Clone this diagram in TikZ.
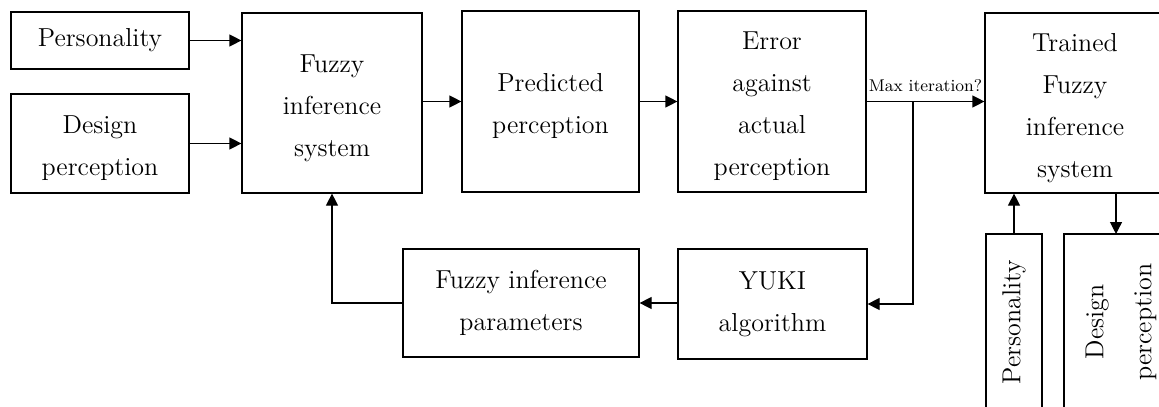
\documentclass[tikz,border=0pt]{standalone}
\usetikzlibrary{arrows.meta}
\newcommand\firstln{\rule{0pt}{14pt}}
\begin{document}
\begin{tikzpicture}[x=0.5pt,y=-0.5pt,
  box/.style={draw, line width=0.6pt, inner sep=0pt, align=center,
    font=\fontsize{13}{21}\selectfont},
  conn/.style={line width=0.6pt, -{Triangle[length=6pt,width=6pt]}}]
\useasboundingbox (0,0) rectangle (1159,406);
\clip (0,0) rectangle (1159,406);
\node[box, minimum width=89pt, minimum height=28.5pt] (pers) at (100,40.5) {Personality};
\node[box, minimum width=89pt, minimum height=49.5pt] (design) at (100,143.5) {\firstln Design\\perception};
\node[box, minimum width=90pt, minimum height=90pt] (fis) at (332,103) {\firstln Fuzzy\\inference\\system};
\node[box, minimum width=88.5pt, minimum height=90.5pt] (pred) at (550.5,101.5) {\firstln Predicted\\perception};
\node[box, minimum width=94pt, minimum height=90.5pt] (err) at (772,101.5) {\firstln Error\\against\\actual\\perception};
\node[box, minimum width=90pt, minimum height=90pt] (tfis) at (1075,103) {\firstln Trained\\Fuzzy\\inference\\system};
\node[box, minimum width=94.5pt, minimum height=55pt] (yuki) at (772.5,304) {YUKI\\algorithm};
\node[box, minimum width=118pt, minimum height=54pt] (params) at (521,303) {Fuzzy inference\\parameters};
\node[box, minimum width=28pt, minimum height=88pt] (pers2) at (1014,322) {\rotatebox{90}{Personality}};
\node[box, minimum width=55pt, minimum height=88pt] (des2) at (1119,322)
  {\rotatebox{90}{\begin{tabular}{@{}c@{}}Design\\[3pt]perception\end{tabular}}};
\draw[conn] (pers.east) -- (pers.east -| fis.west);
\draw[conn] (design.east) -- (design.east -| fis.west);
\draw[conn] (fis.east |- pred.west) -- (pred.west);
\draw[conn] (pred.east) -- (pred.east -| err.west);
\draw[conn] (err.east) -- node[above=3.5pt, inner sep=1pt, font=\fontsize{8.5}{10}\selectfont] {Max iteration?} (err.east -| tfis.west);
\coordinate (br) at (913,101.5);
\draw[conn] (br) |- (yuki.east);
\draw[conn] (yuki.west |- params.east) -- (params.east);
\draw[conn] (params.west) -| (fis.south);
\draw[conn] (pers2.north) -- (pers2.north |- tfis.south);
\coordinate (dtop) at (1116,234);
\draw[conn] (dtop |- tfis.south) -- (dtop);
\end{tikzpicture}
\end{document}
